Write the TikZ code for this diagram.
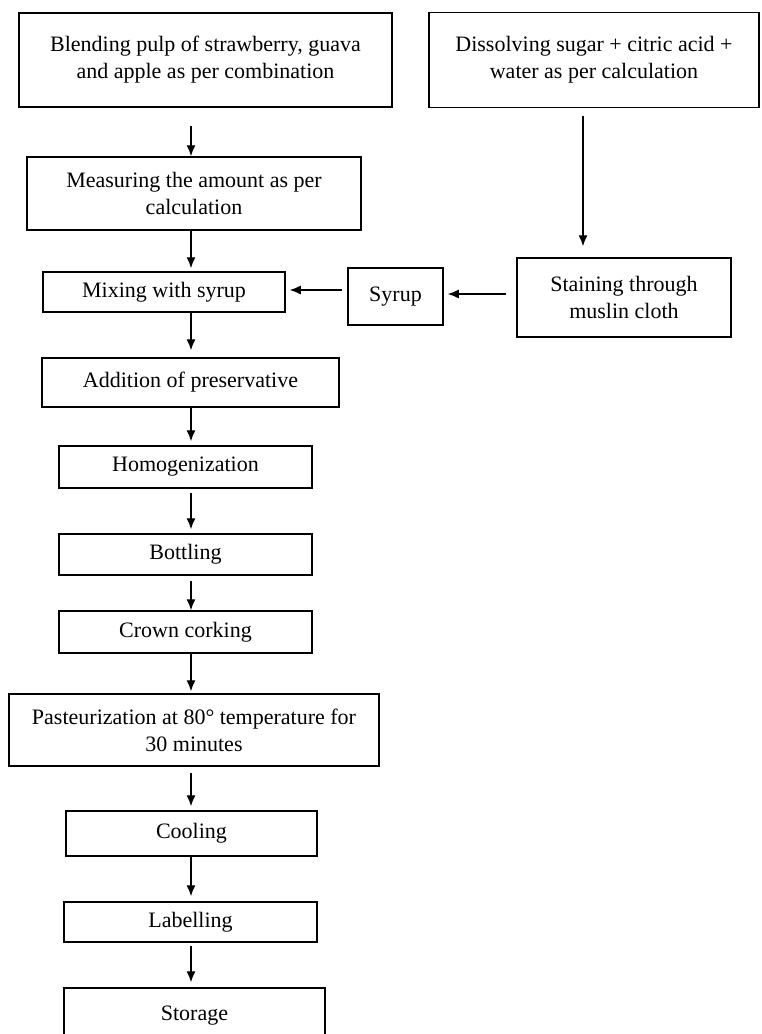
\documentclass[tikz,border=0pt]{standalone}
\usepackage{fontspec}
\setmainfont{Liberation Serif}
\usetikzlibrary{arrows.meta}
\begin{document}
\begin{tikzpicture}[x=1pt,y=-1pt,
  box/.style={draw, line width=1.5pt, align=center, inner sep=0pt,
    font=\fontsize{22}{27}\selectfont},
  arr/.style={line width=1.3pt, -{Latex[length=11pt,width=9pt]}}]
\useasboundingbox (0,0) rectangle (761,1034);
\fill[white] (0,0) rectangle (761,1034);
% boxes
\node[box, minimum width=373pt, minimum height=94pt] (blend) at (205.5,60)
  {Blending pulp of strawberry, guava\\and apple as per combination};
\node[box, minimum width=330pt, minimum height=95pt] (diss) at (594,60)
  {Dissolving sugar + citric acid +\\water as per calculation};
\node[box, minimum width=334pt, minimum height=73pt] (meas) at (194,193.5)
  {Measuring the amount as per\\calculation};
\node[box, minimum width=242pt, minimum height=40pt] (mix) at (164,292)
  {Mixing with syrup};
\node[box, minimum width=95pt, minimum height=57pt] (syrup) at (395.5,296.5)
  {Syrup};
\node[box, minimum width=214pt, minimum height=79pt] (stain) at (624,297.5)
  {Staining through\\muslin cloth};
\node[box, minimum width=297pt, minimum height=49pt] (add) at (190.5,382.5)
  {Addition of preservative};
\node[box, minimum width=253pt, minimum height=42pt] (homog) at (185.5,467)
  {Homogenization};
\node[box, minimum width=253pt, minimum height=41pt] (bott) at (185.5,554.5)
  {Bottling};
\node[box, minimum width=253pt, minimum height=42pt] (crown) at (185.5,632)
  {Crown corking};
\node[box, minimum width=370pt, minimum height=72pt] (past) at (194,730)
  {Pasteurization at 80° temperature for\\30 minutes};
\node[box, minimum width=251pt, minimum height=45pt] (cool) at (191.5,833.5)
  {Cooling};
\node[box, minimum width=253pt, minimum height=40pt] (label) at (190.5,922)
  {Labelling};
\node[box, minimum width=261pt, minimum height=56pt] (store) at (194.5,1016)
  {Storage};
% connectors
\coordinate (col) at (191,0);
\coordinate (colr) at (583,0);
\coordinate (rowa) at (0,294);
\coordinate (rowb) at (0,290);
\draw[arr, shorten <=18pt] (blend.south -| col) -- (meas.north -| col);
\draw[arr, shorten >=3pt] (meas.south -| col) -- (mix.north -| col);
\draw[arr, shorten >=7pt] (mix.south -| col) -- (add.north -| col);
\draw[arr, shorten >=4pt] (add.south -| col) -- (homog.north -| col);
\draw[arr, shorten <=4pt, shorten >=4pt] (homog.south -| col) -- (bott.north -| col);
\draw[arr, shorten <=5pt] (bott.south -| col) -- (crown.north -| col);
\draw[arr, shorten >=2pt] (crown.south -| col) -- (past.north -| col);
\draw[arr, shorten <=6pt, shorten >=4pt] (past.south -| col) -- (cool.north -| col);
\draw[arr, shorten >=5pt] (cool.south -| col) -- (label.north -| col);
\draw[arr, shorten <=3pt, shorten >=5pt] (label.south -| col) -- (store.north -| col);
\draw[arr, shorten <=8pt, shorten >=11pt] (diss.south -| colr) -- (stain.north -| colr);
\draw[arr, shorten <=10pt, shorten >=4pt] (stain.west |- rowa) -- (syrup.east |- rowa);
\draw[arr, shorten <=5pt, shorten >=4pt] (syrup.west |- rowb) -- (mix.east |- rowb);
\end{tikzpicture}
\end{document}
